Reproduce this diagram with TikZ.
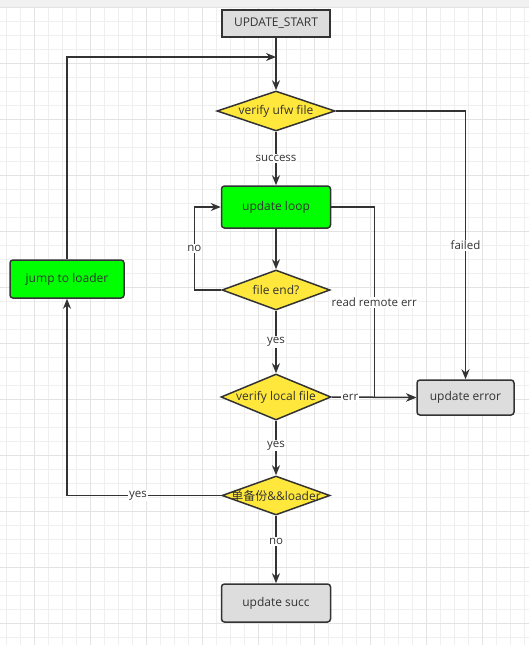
\documentclass[tikz,border=0pt]{standalone}
\usepackage{fontspec}
\setmainfont{Open Sans}
\newfontfamily\cjk{Noto Sans CJK SC}
\usetikzlibrary{shapes.geometric,arrows.meta}
\definecolor{ink}{HTML}{333333}
\definecolor{boxgray}{HTML}{DDDDDD}
\definecolor{loopgreen}{HTML}{00FF00}
\definecolor{decyellow}{HTML}{FFE83B}
\definecolor{gridminor}{HTML}{EFEFEF}
\definecolor{gridmajor}{HTML}{E3E3E3}
\definecolor{band}{HTML}{F1F1F1}
\tikzset{
base/.style={draw=ink,line width=1.5pt,text=ink,font=\fontsize{12}{14}\selectfont,inner sep=0pt},
startbox/.style={base,fill=boxgray},
endbox/.style={base,fill=boxgray,rounded corners=3pt},
actbox/.style={base,fill=loopgreen,rounded corners=3pt},
dec/.style={base,shape=diamond,fill=decyellow},
every label/.style={text=ink,font=\fontsize{12}{14}\selectfont,inner sep=0pt},
flow/.style={draw=ink,line width=1.5pt,->},
lbl/.style={fill=white,text=ink,font=\fontsize{11.5}{13}\selectfont,inner sep=1pt}
}
\begin{document}
\begin{tikzpicture}[x=1pt,y=-1pt,>={Stealth[length=10pt,width=8pt]}]

\useasboundingbox[fill=white] (0,0) rectangle (529,645);

\fill[band] (0,0) rectangle (529,7);

\foreach \k in {0,...,37} \draw[gridminor,line width=0.8pt] (6.7+14*\k,7) -- (6.7+14*\k,645);

\foreach \k in {0,...,45} \draw[gridminor,line width=0.8pt] (0,7+14*\k) -- (529,7+14*\k);

\foreach \k in {0,...,8} \draw[gridmajor,line width=0.8pt] (34.7+56*\k,7) -- (34.7+56*\k,645);

\foreach \k in {0,...,11} \draw[gridmajor,line width=0.8pt] (0,7+56*\k) -- (529,7+56*\k);

\node[startbox,minimum width=108pt,minimum height=27pt] (start) at(276,23.5){UPDATE\_START};

\node[dec,minimum width=118pt,minimum height=40pt,label={center:verify ufw file}] (ufw) at(276,111){};

\node[actbox,minimum width=109pt,minimum height=42pt] (loop) at(276,207){update loop};

\node[dec,minimum width=108pt,minimum height=40pt,label={center:file end?}] (fend) at(276,290){};

\node[dec,minimum width=110pt,minimum height=46pt,label={center:verify local file}] (local) at(276,397){};

\node[dec,minimum width=108pt,minimum height=39pt,label={center:{\cjk 单备份}\&\&loader}] (bak) at(276,495.5){};

\node[endbox,minimum width=109pt,minimum height=38pt] (succ) at(276,603){update succ};

\node[endbox,minimum width=97pt,minimum height=35pt] (err) at(465.5,397.5){update error};

\node[actbox,minimum width=114pt,minimum height=38pt] (jump) at(67,279){jump to loader};

\coordinate (merge) at(276,57);

\draw[flow] (start) -- (ufw);

\draw[flow] (ufw) -- node[lbl]{success} (loop);

\draw[flow] (ufw.east) -| node[lbl,pos=0.75]{failed} (err.north);

\draw[flow] (loop) -- (fend);

\draw[flow] (fend.west) -- ++(-27,0) |- node[lbl,pos=0.25]{no} (loop.west);

\draw[flow] (loop.east) -- ++(43,0) |- node[lbl,pos=0.25]{read remote err} (err.west);

\draw[flow] (fend) -- node[lbl]{yes} (local);

\draw[flow] (local.east) -- node[lbl,pos=0.22]{err} (err.west);

\draw[flow] (local) -- node[lbl,pos=0.45]{yes} (bak);

\draw[flow] (bak.west) -| node[lbl,pos=0.27]{yes} (jump.south);

\draw[flow] (bak) -- node[lbl,pos=0.38]{no} (succ);

\draw[flow] (jump.north) |- (merge);

\end{tikzpicture}
\end{document}
